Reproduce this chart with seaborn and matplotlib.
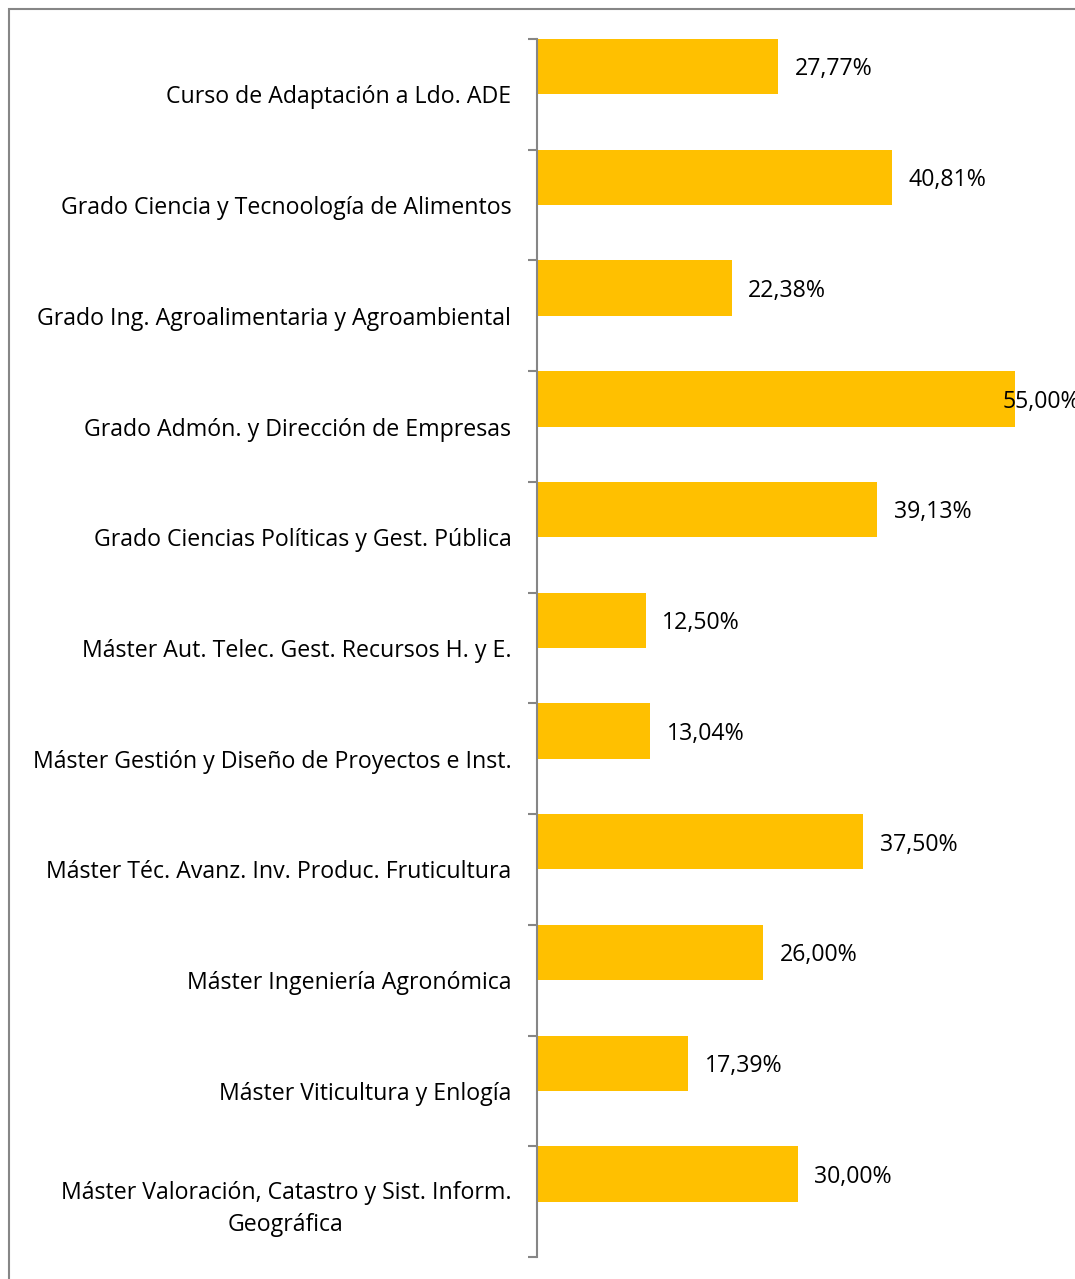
import matplotlib
matplotlib.use('Agg')
import matplotlib.pyplot as plt
from matplotlib.patches import Rectangle
from matplotlib.ticker import FixedLocator
import numpy as np
import pandas as pd
import seaborn as sns

sns.set_style('white')
plt.rcParams['font.family'] = ['Open Sans', 'DejaVu Sans']

categories = [
    'Curso de Adaptación a Ldo. ADE',
    'Grado Ciencia y Tecnoología de Alimentos',
    'Grado Ing. Agroalimentaria y Agroambiental',
    'Grado Admón. y Dirección de Empresas',
    'Grado Ciencias Políticas y Gest. Pública',
    'Máster Aut. Telec. Gest. Recursos H. y E.',
    'Máster Gestión y Diseño de Proyectos e Inst.',
    'Máster Téc. Avanz. Inv. Produc. Fruticultura',
    'Máster Ingeniería Agronómica',
    'Máster Viticultura y Enlogía',
    'Máster Valoración, Catastro y Sist. Inform.\nGeográfica',
]
values = [27.77, 40.81, 22.38, 55.00, 39.13, 12.50, 13.04, 37.50, 26.00, 17.39, 30.00]

BAR_COLOR = '#FFC000'
AXIS_COLOR = '#868686'
W, H = 1075, 1279
FONT_SIZE = 16.7


def fmt_pct(v: float) -> str:
    return f'{v:.2f}%'.replace('.', ',')


def main() -> None:
    # Excel-style clustered chart: the real series plus an empty one,
    # so each bar sits in the top half of its band
    df = pd.DataFrame({
        'cat': categories * 2,
        'val': values + [0.0] * len(values),
        'serie': ['a'] * len(values) + ['b'] * len(values),
    })

    fig = plt.figure(figsize=(W / 100, H / 100), dpi=100)
    ax = fig.add_axes([537 / W, 1 - 1257 / H, 1 - 537 / W, (1257 - 39) / H])

    sns.barplot(data=df, x='val', y='cat', hue='serie', hue_order=['a', 'b'],
                orient='h', order=categories, palette=[BAR_COLOR, BAR_COLOR],
                saturation=1, width=1.0, dodge=True, linewidth=0, legend=False, ax=ax)

    n = len(categories)
    xmax = 61.9
    ax.set_xlim(0, xmax)
    ax.set_ylim(n - 0.5, -0.5)
    ax.set_xlabel('')
    ax.set_ylabel('')
    ax.set_xticks([])

    for side in ['top', 'right', 'bottom']:
        ax.spines[side].set_visible(False)
    ax.spines['left'].set_color(AXIS_COLOR)
    ax.spines['left'].set_linewidth(1.5)

    ax.yaxis.set_minor_locator(FixedLocator(np.arange(n + 1) - 0.5))
    ax.tick_params(axis='y', which='major', length=0, pad=18.5, labelsize=FONT_SIZE, labelcolor='black')
    ax.tick_params(axis='y', which='minor', left=True, length=6.5, width=1.5, color=AXIS_COLOR, direction='out')
    for lbl in ax.get_yticklabels():
        lbl.set_multialignment('center')
        lbl.set_linespacing(1.45)

    # value labels, pulled back inside the plot area when they would run off the edge
    for i, v in enumerate(values):
        y = i - 0.25
        if v > 52:
            ax.annotate(fmt_pct(v), xy=(xmax, y), xytext=(4, -2), textcoords='offset points',
                        ha='right', va='center', fontsize=FONT_SIZE, color='black',
                        annotation_clip=False)
        else:
            ax.annotate(fmt_pct(v), xy=(v, y), xytext=(12, -2), textcoords='offset points',
                        ha='left', va='center', fontsize=FONT_SIZE, color='black')

    # chart frame (cropped at right and bottom in the original)
    fig.patches.append(Rectangle((9 / W, -0.05), 1.1, 1 - 9 / H + 0.05,
                                 transform=fig.transFigure, fill=False,
                                 edgecolor=AXIS_COLOR, linewidth=1.5))

    fig.savefig('out.png', dpi=100, facecolor='white')


if __name__ == '__main__':
    main()
